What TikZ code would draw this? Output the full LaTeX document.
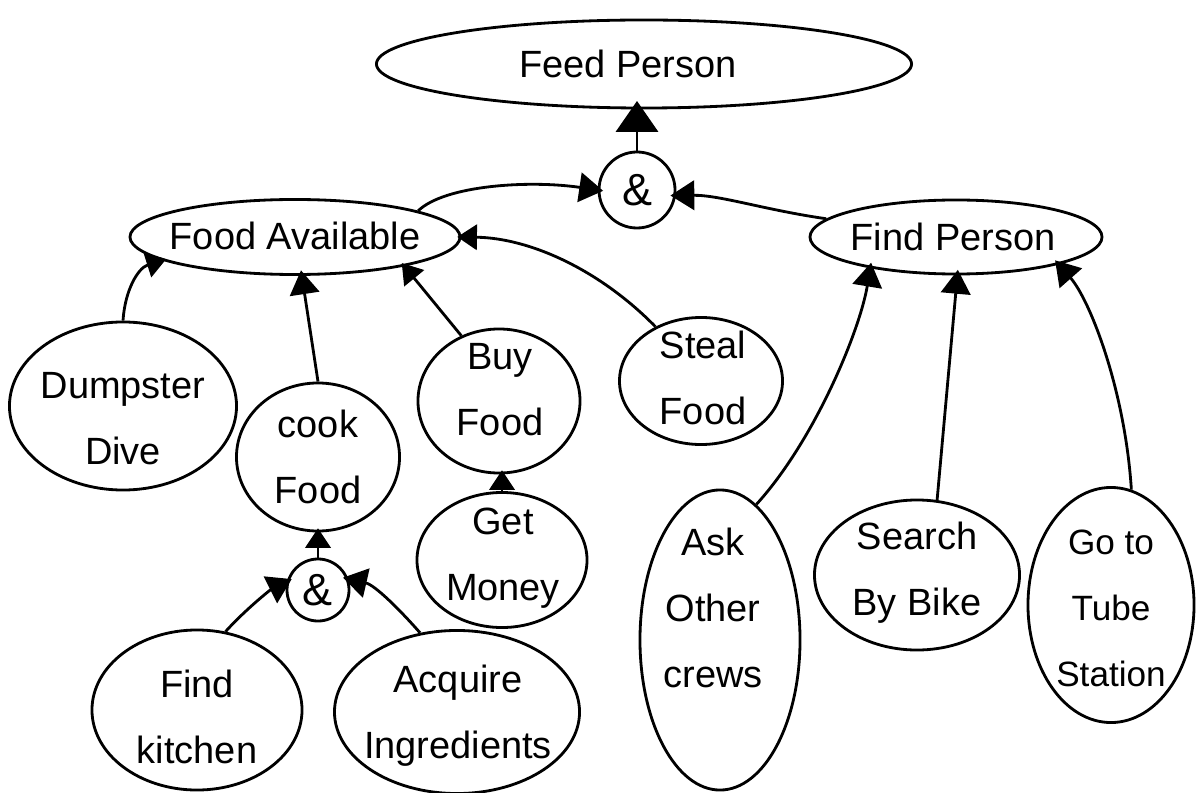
\documentclass[tikz,border=0pt]{standalone}
\usepackage{fontspec}
\setmainfont{Liberation Sans}
\usetikzlibrary{shapes.geometric,arrows.meta}
\begin{document}
\begin{tikzpicture}[x=0.025cm,y=-0.025cm,
  line width=2pt,
  blob/.style={draw,ellipse,inner sep=0pt},
  andnode/.style={draw,circle,inner sep=0pt,font=\fontsize{32}{32}\selectfont},
  lbl/.style={align=center,inner sep=0pt,font=\fontsize{27}{47}\selectfont},
  arr/.style={-{Triangle[length=17pt,width=21pt]},shorten >=-4pt},
  arrbig/.style={-{Triangle[length=22pt,width=30pt]},shorten >=-6pt},
  arrsmall/.style={-{Triangle[length=14pt,width=18pt]},shorten >=-3pt}]
\useasboundingbox (0,0) rectangle (1200,793);
% ellipses
\node[blob,minimum width=13.375cm,minimum height=2.2cm] (feed) at (644,64) {};
\node[andnode,minimum size=1.9cm] (andtop) at (637,190) {\&};
\node[blob,minimum width=8.25cm,minimum height=1.875cm] (foodav) at (295,237) {};
\node[blob,minimum width=7.3cm,minimum height=1.85cm] (findp) at (956,237) {};
\node[blob,minimum width=5.675cm,minimum height=4.2cm] (dump) at (123,406) {};
\node[blob,minimum width=4.075cm,minimum height=3.7cm] (cook) at (318,457) {};
\node[blob,minimum width=4.05cm,minimum height=3.6cm] (buy) at (499,401) {};
\node[blob,minimum width=4.075cm,minimum height=3.175cm] (steal) at (701,381) {};
\node[blob,minimum width=4.25cm,minimum height=3.375cm] (money) at (502,560) {};
\node[andnode,minimum size=1.55cm] (andbot) at (318,590) {\&};
\node[blob,minimum width=5.25cm,minimum height=4.0cm] (kitchen) at (197,710) {};
\node[blob,minimum width=6.125cm,minimum height=4.075cm] (acq) at (457,712) {};
\node[blob,minimum width=4.0cm,minimum height=7.5cm] (ask) at (720,640) {};
\node[blob,minimum width=5.125cm,minimum height=3.75cm] (bike) at (917,575) {};
\node[blob,minimum width=4.15cm,minimum height=5.875cm] (tube) at (1111,605) {};
% labels
\node[lbl] (tfeed) at (628,64) {Feed Person};
\node[lbl] (tfoodav) at (295,236) {Food Available};
\node[lbl] (tfindp) at (953,237) {Find Person};
\node[lbl] (tdump) at (123,419) {Dumpster\\Dive};
\node[lbl] (tcook) at (318,457) {cook\\Food};
\node[lbl] (tbuy) at (500,390) {Buy\\Food};
\node[lbl] (tsteal) at (703,378) {Steal\\Food};
\node[lbl] (tmoney) at (503,558) {Get\\Money};
\node[lbl] (tkitchen) at (197,717) {Find\\kitchen};
\node[lbl] (tacq) at (458,716) {Acquire\\Ingredients};
\node[lbl] (task) at (713,608) {Ask\\Other\\crews};
\node[lbl] (tbike) at (917,573) {Search\\By Bike};
\node[lbl,font=\fontsize{25}{47}\selectfont] (ttube) at (1111,608) {Go to\\Tube\\Station};
% connectors
\draw[arrbig] (andtop.north) -- (andtop.north |- feed.south);
\draw[arr] (foodav.12) .. controls (445,185) and (530,180) .. (andtop.west);
\draw[arr] (findp.172) .. controls (765,210) and (720,195) .. (andtop.-8);
\draw[arrsmall] (dump.north) .. controls (125,290) and (138,268) .. (foodav.190);
\draw[arr] (cook.north) -- (foodav.-80);
\draw[arrsmall] (buy.120) -- (foodav.-15);
\draw[arrsmall] (steal.130) .. controls (600,270) and (530,238) .. (foodav.east);
\draw[arrsmall] (money.north) -- (money.north |- buy.south);
\draw[arrsmall] (andbot.north) -- (andbot.north |- cook.south);
\draw[arr] (kitchen.70) .. controls (245,610) and (270,590) .. (andbot.165);
\draw[arr] (acq.115) .. controls (400,610) and (375,585) .. (andbot.20);
\draw[arr] (ask.75) .. controls (815,440) and (860,330) .. (findp.200);
\draw[arr] (bike.75) -- (findp.-88);
\draw[arr] (tube.80) .. controls (1125,390) and (1090,300) .. (findp.-15);
\end{tikzpicture}
\end{document}
